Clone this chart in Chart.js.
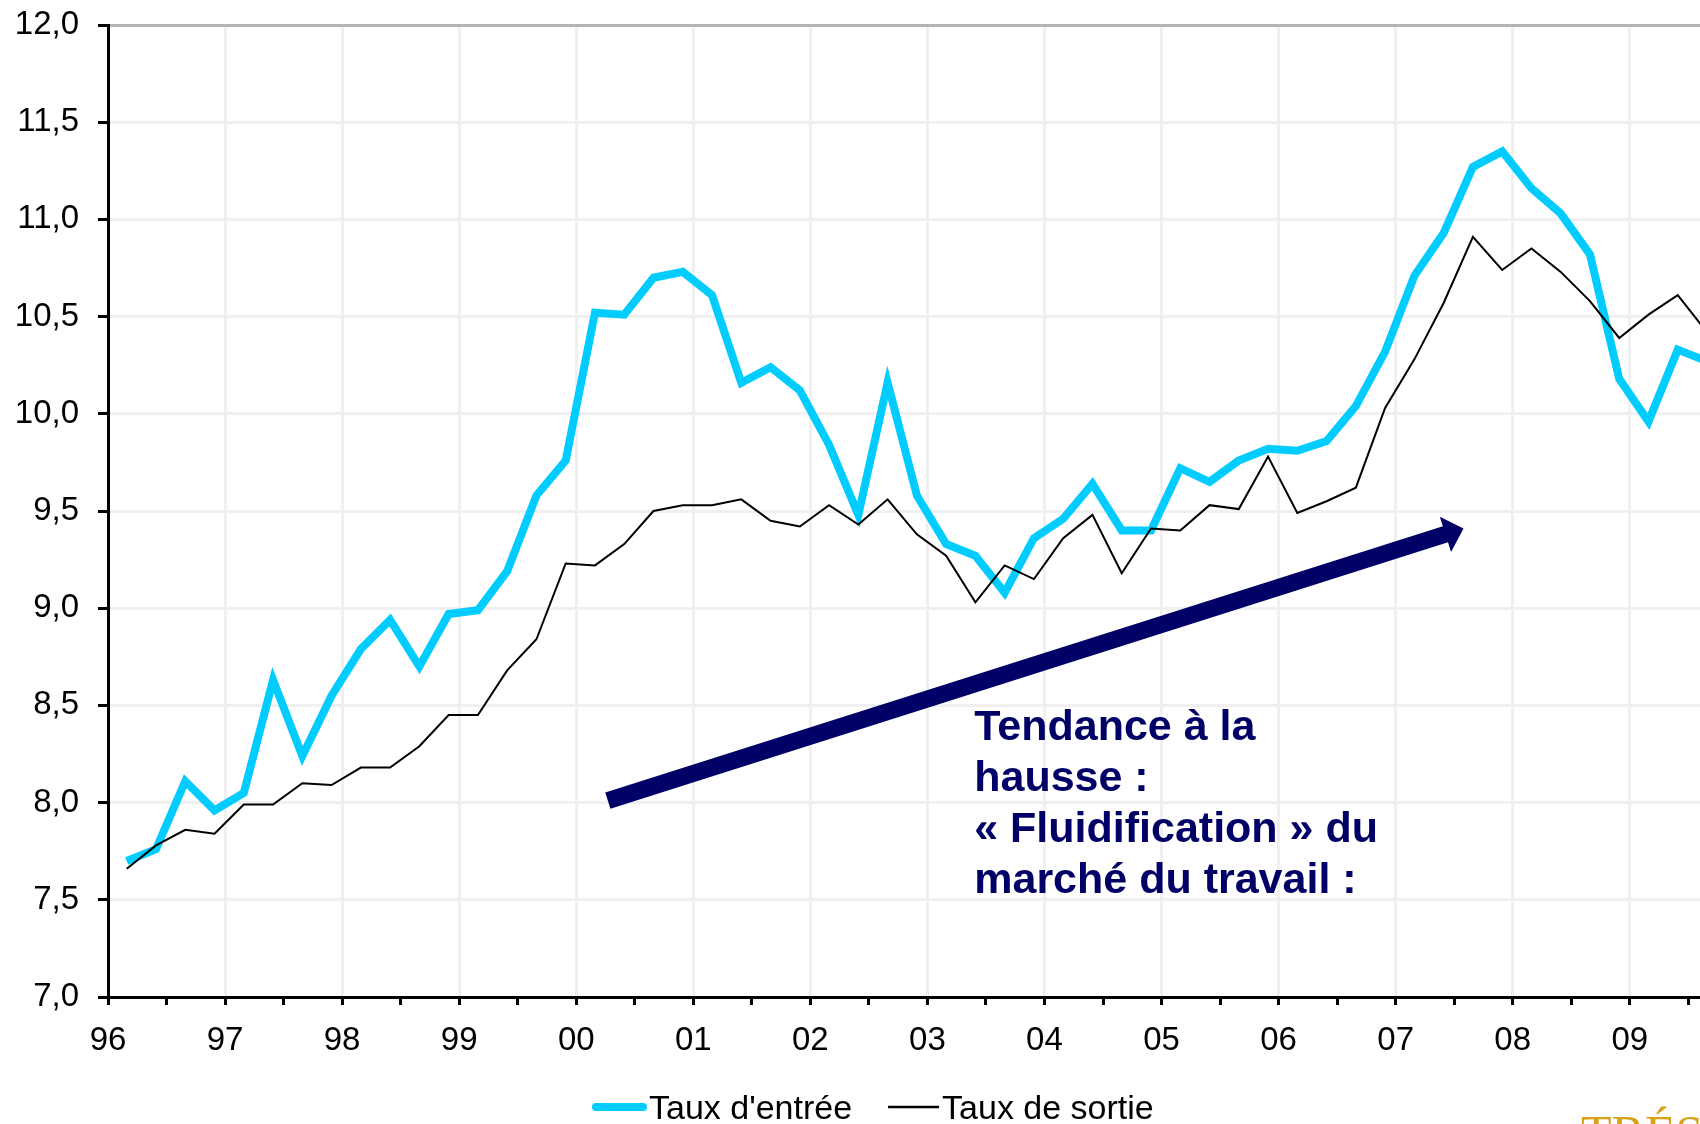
<!DOCTYPE html>
<html>
<head>
<meta charset="utf-8">
<script src="https://cdn.jsdelivr.net/npm/chart.js@4/dist/chart.umd.min.js"></script>
<style>
  html, body { margin: 0; padding: 0; background: #fff; overflow: hidden; }
  #wrap { position: relative; width: 1700px; height: 1124px; }
</style>
</head>
<body>
<div id="wrap"><canvas id="c" width="1700" height="1124"></canvas></div>
<script>
// ---- Data ----
const quarters = [
  '1996T1','1996T2','1996T3','1996T4','1997T1','1997T2','1997T3','1997T4',
  '1998T1','1998T2','1998T3','1998T4','1999T1','1999T2','1999T3','1999T4',
  '2000T1','2000T2','2000T3','2000T4','2001T1','2001T2','2001T3','2001T4',
  '2002T1','2002T2','2002T3','2002T4','2003T1','2003T2','2003T3','2003T4',
  '2004T1','2004T2','2004T3','2004T4','2005T1','2005T2','2005T3','2005T4',
  '2006T1','2006T2','2006T3','2006T4','2007T1','2007T2','2007T3','2007T4',
  '2008T1','2008T2','2008T3','2008T4','2009T1','2009T2','2009T3'
];
const tauxEntree = [
  7.70, 7.76, 8.11, 7.96, 8.05, 8.63, 8.24, 8.55,
  8.79, 8.94, 8.70, 8.97, 8.99, 9.19, 9.58, 9.76,
  10.52, 10.51, 10.70, 10.73, 10.61, 10.16, 10.24, 10.12,
  9.84, 9.48, 10.16, 9.58, 9.33, 9.27, 9.08, 9.36,
  9.46, 9.64, 9.40, 9.40, 9.72, 9.65, 9.76, 9.82,
  9.81, 9.86, 10.04, 10.32, 10.71, 10.93, 11.27, 11.35,
  11.16, 11.03, 10.82, 10.18, 9.96, 10.33, 10.27
];
const tauxSortie = [
  7.66, 7.78, 7.86, 7.84, 7.99, 7.99, 8.10, 8.09,
  8.18, 8.18, 8.29, 8.45, 8.45, 8.68, 8.84, 9.23,
  9.22, 9.33, 9.50, 9.53, 9.53, 9.56, 9.45, 9.42,
  9.53, 9.43, 9.56, 9.38, 9.27, 9.03, 9.22, 9.15,
  9.36, 9.48, 9.18, 9.41, 9.40, 9.53, 9.51, 9.78,
  9.49, 9.55, 9.62, 10.03, 10.28, 10.57, 10.91, 10.74,
  10.85, 10.73, 10.58, 10.39, 10.51, 10.61, 10.42
];
const yearLabels = ['96','97','98','99','00','01','02','03','04','05','06','07','08','09'];
const seriesLabels = ["Taux d'entrée", 'Taux de sortie'];
const annotationLines = ['Tendance à la', 'hausse :', '« Fluidification » du', 'marché du travail :'];
const logoText = 'TRÉSOR';

// ---- Helpers ----
const firstYear = 1996;
const inQuarterOffset = 0.16; // where each quarterly point sits inside its quarter (date axis)
function quarterToX(q) {
  const y = parseInt(q.slice(0, 4), 10);
  const n = parseInt(q.slice(5), 10);
  return y + (n - 1) / 4 + inQuarterOffset;
}
const entreePts = quarters.map((q, i) => ({ x: quarterToX(q), y: tauxEntree[i] }));
const sortiePts = quarters.map((q, i) => ({ x: quarterToX(q), y: tauxSortie[i] }));

const FONT = '"Liberation Sans", Arial, sans-serif';
const NAVY = '#000066';

const arrowFrom = { x: 2000.27, y: 8.01 };
const arrowTo = { x: 2007.58, y: 9.41 };
const textAnchor = { x: 2003.40, y: 8.324 };

const overlayPlugin = {
  id: 'overlay',
  afterDraw(chart) {
    const ctx = chart.ctx;
    const xs = chart.scales.x, ys = chart.scales.y;
    ctx.save();
    // Arrow
    const x0 = xs.getPixelForValue(arrowFrom.x), y0 = ys.getPixelForValue(arrowFrom.y);
    const x1 = xs.getPixelForValue(arrowTo.x), y1 = ys.getPixelForValue(arrowTo.y);
    const dx = x1 - x0, dy = y1 - y0, L = Math.hypot(dx, dy);
    const ux = dx / L, uy = dy / L, nx = -uy, ny = ux;
    const shaftHalf = 8.5, headLen = 19, headHalf = 18.5;
    const bx = x1 - ux * headLen, by = y1 - uy * headLen;
    ctx.fillStyle = NAVY;
    ctx.beginPath();
    ctx.moveTo(x0 + nx * shaftHalf, y0 + ny * shaftHalf);
    ctx.lineTo(bx + nx * shaftHalf, by + ny * shaftHalf);
    ctx.lineTo(bx + nx * headHalf, by + ny * headHalf);
    ctx.lineTo(x1, y1);
    ctx.lineTo(bx - nx * headHalf, by - ny * headHalf);
    ctx.lineTo(bx - nx * shaftHalf, by - ny * shaftHalf);
    ctx.lineTo(x0 - nx * shaftHalf, y0 - ny * shaftHalf);
    ctx.closePath();
    ctx.fill();

    // Annotation text
    ctx.font = 'bold 43px ' + FONT;
    ctx.fillStyle = NAVY;
    ctx.textAlign = 'left';
    ctx.textBaseline = 'alphabetic';
    const tx = xs.getPixelForValue(textAnchor.x), ty = ys.getPixelForValue(textAnchor.y);
    annotationLines.forEach((line, i) => ctx.fillText(line, tx, ty + i * 51));

    // Legend
    const ds = chart.data.datasets;
    const legY = 1107, textBase = 1119;
    ctx.font = '34px ' + FONT;
    ctx.fillStyle = '#000';
    let cx = 596;
    ctx.lineCap = 'round';
    ctx.strokeStyle = ds[0].borderColor;
    ctx.lineWidth = 8;
    ctx.beginPath(); ctx.moveTo(cx, legY); ctx.lineTo(cx + 47, legY); ctx.stroke();
    cx += 53;
    ctx.fillText(ds[0].label, cx, textBase);
    cx += ctx.measureText(ds[0].label).width + 36;
    ctx.lineCap = 'butt';
    ctx.strokeStyle = ds[1].borderColor;
    ctx.lineWidth = 2.5;
    ctx.beginPath(); ctx.moveTo(cx, legY); ctx.lineTo(cx + 51, legY); ctx.stroke();
    cx += 54;
    ctx.fillText(ds[1].label, cx, textBase);

    // Logo (cropped at the bottom edge)
    ctx.font = '50px "Liberation Serif", "Times New Roman", serif';
    ctx.fillStyle = '#D9A21B';
    ctx.fillText(logoText, 1581, 1150);
    ctx.restore();
  }
};

new Chart(document.getElementById('c').getContext('2d'), {
  type: 'line',
  data: {
    datasets: [
      { label: seriesLabels[0], data: entreePts, borderColor: '#00CCFF', backgroundColor: '#00CCFF',
        borderWidth: 8, pointRadius: 0, tension: 0, fill: false, order: 2 },
      { label: seriesLabels[1], data: sortiePts, borderColor: '#000000', backgroundColor: '#000000',
        borderWidth: 2, pointRadius: 0, tension: 0, fill: false, order: 1 }
    ]
  },
  options: {
    responsive: false,
    animation: false,
    devicePixelRatio: 1,
    layout: { padding: { top: 25, right: 0, bottom: 0, left: 0 } },
    plugins: { legend: { display: false }, tooltip: { enabled: false } },
    scales: {
      x: {
        type: 'linear',
        min: firstYear,
        max: 2009.6,
        afterBuildTicks(scale) {
          const t = [];
          for (let v = firstYear; v <= 2009.5; v += 0.5) t.push({ value: v });
          scale.ticks = t;
        },
        afterFit(scale) { scale.height = 127; scale.paddingLeft = 0; scale.paddingRight = 0; },
        grid: {
          color: (c) => (c.tick && Number.isInteger(c.tick.value)) ? '#f0f0f0' : 'rgba(0,0,0,0)',
          lineWidth: 3,
          drawTicks: true,
          tickLength: 8,
          tickColor: '#000',
          tickWidth: 3
        },
        border: { display: true, color: '#000', width: 3 },
        ticks: {
          autoSkip: false,
          maxRotation: 0,
          padding: 16,
          color: '#000',
          font: { family: FONT, size: 33 },
          callback: (v) => Number.isInteger(v) ? yearLabels[v - firstYear] : ''
        }
      },
      y: {
        min: 7,
        max: 12,
        afterFit(scale) { scale.width = 108; scale.paddingTop = 0; scale.paddingBottom = 0; },
        grid: {
          color: (c) => (c.tick && c.tick.value === 12) ? '#b4b4b4' : '#f0f0f0',
          lineWidth: 3,
          drawTicks: true,
          tickLength: 10,
          tickColor: '#000',
          tickWidth: 3
        },
        border: { display: true, color: '#000', width: 3 },
        ticks: {
          stepSize: 0.5,
          padding: 19,
          color: '#000',
          font: { family: FONT, size: 33 },
          callback: (v) => Number(v).toFixed(1).replace('.', ',')
        }
      }
    }
  },
  plugins: [overlayPlugin]
});
</script>
</body>
</html>
